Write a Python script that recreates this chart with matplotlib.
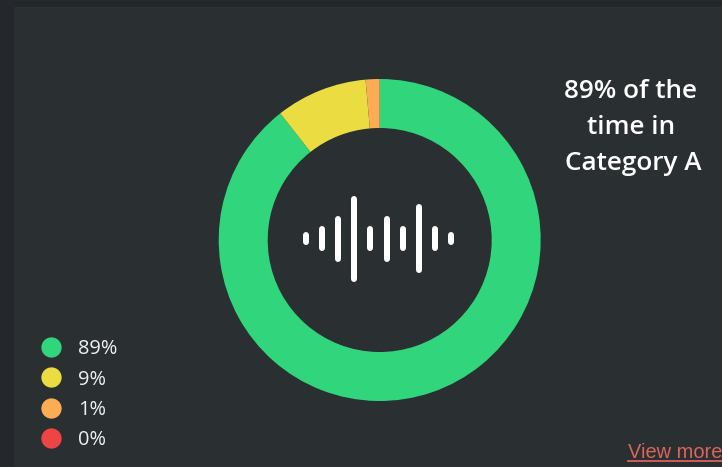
import matplotlib
matplotlib.use("Agg")
import matplotlib.pyplot as plt
from matplotlib.patches import Rectangle

W, H = 722, 467
shares = [89.4, 9.2, 1.4, 0.0]
colors = ["#31d57c", "#ebdc41", "#fdac56", "#ef4444"]
legend_labels = ["89%", "9%", "1%", "0%"]
wave_heights = [13, 25, 46, 86, 25, 46, 25, 69, 25, 13]
title_lines = ["89% of the", "time in", "Category A"]
link_text = "View more"

fig = plt.figure(figsize=(W / 100, H / 100), dpi=100, facecolor="#24282c")
ax = fig.add_axes([0, 0, 1, 1])
ax.set_xlim(0, W)
ax.set_ylim(H, 0)
ax.axis("off")
ax.add_patch(Rectangle((14, 7), W, H, facecolor="#2a2f32", edgecolor="none", zorder=0))

# donut in its own pixel-aligned axes
cx, cy, R, r = 379.7, 240, 161, 112
pie_ax = fig.add_axes([(cx - R) / W, 1 - (cy + R) / H, 2 * R / W, 2 * R / H])
pie_ax.pie(shares, colors=colors, startangle=90, counterclock=False, radius=1,
           wedgeprops=dict(width=1 - r / R, linewidth=0))
pie_ax.set_xlim(-1, 1)
pie_ax.set_ylim(-1, 1)
pie_ax.patch.set_alpha(0)

# sound wave icon
wave_w = 6
for i, h in enumerate(wave_heights):
    x = 306 + i * 16.1
    ax.plot([x, x], [238.5 - (h - wave_w) / 2, 238.5 + (h - wave_w) / 2],
            color="white", lw=wave_w * 0.72, solid_capstyle="round", zorder=3)

# title
for i, line in enumerate(title_lines):
    ax.text(633 if i == 2 else 631, 91.5 + i * 36, line, ha="center", va="center",
            color="white", fontsize=18.8, fontweight="semibold", family="Open Sans")

# legend
for i, (lab, c) in enumerate(zip(legend_labels, colors)):
    y = 347 + i * 30.3
    ax.plot([51], [y], "o", ms=14.6, mfc=c, mec="none", zorder=3)
    ax.text(78, y + 2.5, lab, ha="left", va="center", color="#eef0f2",
            fontsize=14.4, family="Open Sans")

# link
ax.text(628, 452, link_text, ha="left", va="center", color="#d9655b",
        fontsize=14.4, family="Liberation Sans", clip_on=True)
ax.plot([628, 722], [460.5, 460.5], color="#d9655b", lw=1.3, zorder=3)

fig.savefig("out.png", dpi=100, facecolor=fig.get_facecolor())
